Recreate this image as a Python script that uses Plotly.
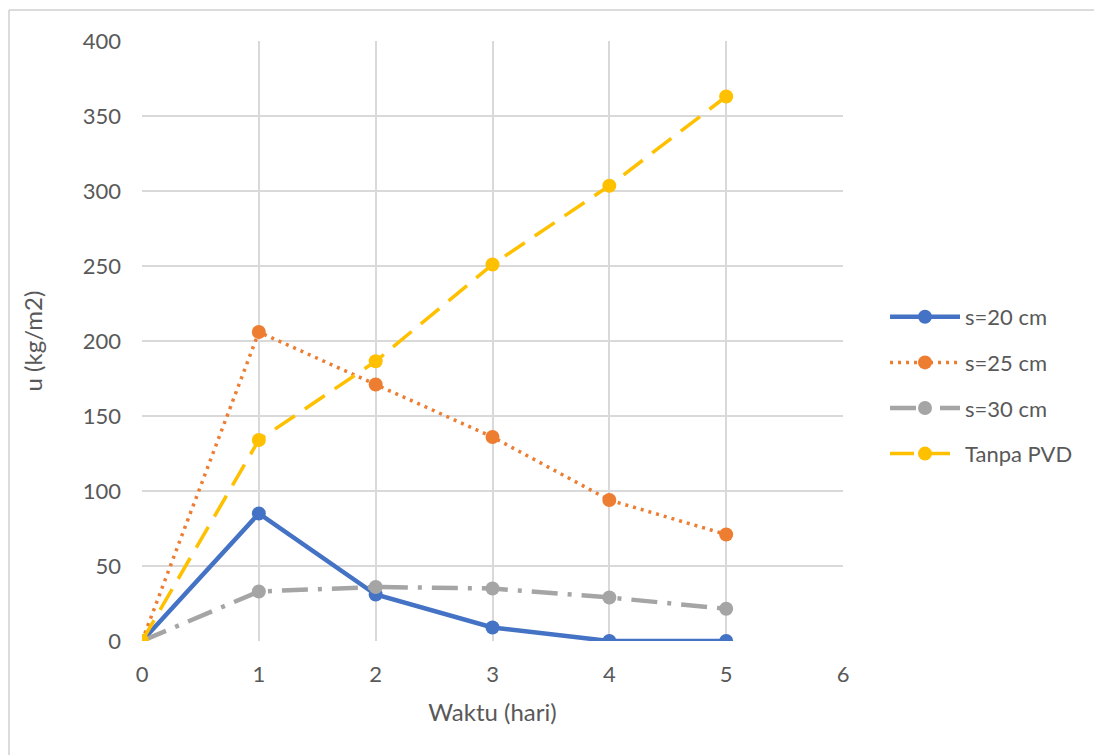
import plotly.graph_objects as go

# Waktu (hari) on the x axis
waktu = [0, 1, 2, 3, 4, 5]

# u (kg/m2) per PVD spacing
s20 = [0, 85, 31, 9, 0, 0]
s25 = [0, 206, 171, 136, 94, 71]
s30 = [0, 33, 36, 35, 29, 21.5]
tanpa_pvd = [0, 134, 186.5, 251, 303.5, 363]

W, H = 1094, 755
ML, MR, MT, MB = 142, 251, 41, 114
PW, PH = W - ML - MR, H - MT - MB

TEXT = "#595959"
GRID = "#d9d9d9"
FONT = "Lato, 'Liberation Sans', sans-serif"

series = [
    ("s=20 cm", s20, "#4472C4", "solid", 4.5),
    ("s=25 cm", s25, "#ED7D31", "3px,5px", 3.5),
    ("s=30 cm", s30, "#A5A5A5", "26px,10px,4px,10px", 4.5),
    ("Tanpa PVD", tanpa_pvd, "#FFC000", "24px,12px", 3.5),
]

fig = go.Figure()
for name, vals, color, dash, width in series:
    fig.add_trace(go.Scatter(
        x=waktu, y=vals, name=name, mode="lines+markers",
        line=dict(color=color, dash=dash, width=width),
        marker=dict(color=color, size=14),
        legendgroup=name,
    ))


def px_x(p):
    return (p - ML) / PW


def px_y(p):
    return (H - MB - p) / PH


# outer frame of the chart area
fig.add_shape(type="line", xref="paper", yref="paper",
              x0=px_x(9), x1=px_x(W + 5), y0=px_y(10), y1=px_y(10),
              line=dict(color="#d0d0d0", width=1.5))
fig.add_shape(type="line", xref="paper", yref="paper",
              x0=px_x(9), x1=px_x(9), y0=px_y(10), y1=px_y(H + 5),
              line=dict(color="#d0d0d0", width=1.5))

fig.update_layout(
    width=W, height=H,
    margin=dict(l=ML, r=MR, t=MT, b=MB),
    paper_bgcolor="white", plot_bgcolor="white",
    font=dict(family=FONT, color=TEXT, size=22),
    showlegend=True,
    legend=dict(
        x=px_x(885), xanchor="left", y=px_y(296), yanchor="top",
        font=dict(size=22, color=TEXT), itemwidth=70,
        tracegroupgap=14, bgcolor="rgba(0,0,0,0)",
    ),
    xaxis=dict(
        range=[0, 6], dtick=1, tick0=0, showgrid=True, gridcolor=GRID,
        gridwidth=1.5, zeroline=False, showline=False, ticks="",
        tickfont=dict(size=22, color=TEXT), ticklabelstandoff=18,
        title=dict(text="Waktu (hari)", font=dict(size=24, color=TEXT), standoff=18),
        fixedrange=True,
    ),
    yaxis=dict(
        range=[0, 400], dtick=50, tick0=0, showgrid=True, gridcolor=GRID,
        gridwidth=1.5, zeroline=False, showline=False, ticks="",
        tickfont=dict(size=22, color=TEXT), ticklabelstandoff=20,
        title=dict(text="u (kg/m2)", font=dict(size=24, color=TEXT), standoff=33),
        fixedrange=True,
    ),
)

fig.write_html("out.html")
